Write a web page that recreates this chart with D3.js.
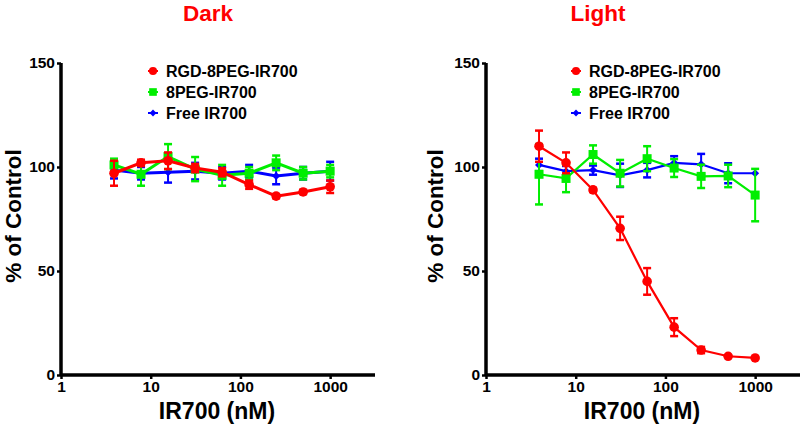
<!DOCTYPE html>
<html><head><meta charset="utf-8">
<script src="https://cdn.jsdelivr.net/npm/d3@7"></script>
<style>body{margin:0;background:#fff}svg{display:block;font-family:"Liberation Sans",Arial,sans-serif;font-weight:bold}</style>
</head><body><svg id="c" width="800" height="428"></svg>
<script>
const conc = [3.9, 7.8, 15.6, 31.25, 62.5, 125, 250, 500, 1000];
const seriesNames = ["RGD-8PEG-IR700", "8PEG-IR700", "Free IR700"];
const seriesColors = ["#ff0000", "#00ee00", "#0000ff"];
const yTicks = [0, 50, 100, 150];
const xTicks = [1, 10, 100, 1000];
// Dark panel
const darkRGD = [97, 102, 103, 99.5, 97.5, 91.5, 86, 88, 90.5];
const darkRGDErr = [6, 1.5, 4, 2, 2, 2, 1, 1, 3];
const dark8PEG = [101, 96.5, 105, 99, 96, 97, 102, 97, 98];
const dark8PEGErr = [3, 5.5, 6, 5.8, 5, 3, 3.5, 3, 3];
const darkFree = [98.5, 97, 97.5, 98, 97, 98, 95.7, 97, 98];
const darkFreeErr = [4, 3, 5, 4, 3, 3, 4, 3, 4.5];
// Light panel
const lightRGD = [110, 102, 89, 70.5, 45, 23, 12, 9, 8.2];
const lightRGDErr = [7.5, 5, 1, 5.6, 6.4, 4.3, 1.5, 0.5, 0.5];
const light8PEG = [96.5, 94.5, 106, 97, 104, 99.5, 95.5, 95.7, 86.5];
const light8PEGErr = [14.5, 6.6, 4.4, 6.4, 6, 4.3, 5.6, 5.4, 12.6];
const lightFree = [101, 98, 98.5, 96, 98.5, 102, 101.3, 97, 97];
const lightFreeErr = [3, 2.5, 2.2, 5.6, 3.5, 3.2, 5, 4.8, 0];

const svg = d3.select("#c");

function panel(opt) {
  const x = d3.scaleLog().domain([1, 3162]).range([opt.x0, opt.x0 + 314]);
  const y = d3.scaleLinear().domain([0, 150]).range([375, 63]);
  const g = svg.append("g");
  g.append("text").attr("x", opt.titleX).attr("y", 21).attr("text-anchor", "middle")
    .attr("fill", "#ff0000").attr("font-size", 22.5).text(opt.title);
  // axes
  const ya = g.append("g").attr("transform", `translate(${opt.x0},0)`)
    .call(d3.axisLeft(y).tickValues(yTicks).tickSize(4).tickPadding(2).tickFormat(d3.format("d")));
  const xa = g.append("g").attr("transform", `translate(0,375)`)
    .call(d3.axisBottom(x).tickValues(xTicks).tickSize(4).tickPadding(2).tickFormat(d3.format("d")));
  [ya, xa].forEach(a => {
    a.select(".domain").attr("stroke", "#000").attr("stroke-width", 3.5);
    a.selectAll(".tick line").attr("stroke", "#000").attr("stroke-width", 2.5);
    a.selectAll("text").attr("font-size", 15.5).attr("font-weight", "bold").attr("fill", "#000")
      .attr("font-family", "Liberation Sans,Arial,sans-serif");
  });
  ya.select(".domain").attr("d", `M0,${y(150)}V${y(0)}`);
  xa.select(".domain").attr("d", `M${opt.x0},0H${opt.x0 + 314}`);
  g.append("text").attr("transform", `translate(${opt.ylabX},216) rotate(-90)`)
    .attr("text-anchor", "middle").attr("font-size", 22.5).text("% of Control");
  g.append("text").attr("x", opt.xlabX).attr("y", 419).attr("text-anchor", "middle")
    .attr("font-size", 23).text("IR700 (nM)");

  const line = d3.line().x((d, i) => x(conc[i])).y(d => y(d));
  const order = [2, 1, 0];
  order.forEach(k => {
    const vals = opt.data[k], errs = opt.errs[k], col = seriesColors[k];
    const sg = g.append("g");
    sg.append("path").attr("d", line(vals)).attr("fill", "none").attr("stroke", col).attr("stroke-width", opt.lw);
    vals.forEach((v, i) => {
      const cx = x(conc[i]), e = errs[i];
      if (e > 0.6) {
        sg.append("line").attr("x1", cx).attr("x2", cx).attr("y1", y(v - e)).attr("y2", y(v + e)).attr("stroke", col).attr("stroke-width", 2);
        [v - e, v + e].forEach(t => sg.append("line").attr("x1", cx - 4).attr("x2", cx + 4).attr("y1", y(t)).attr("y2", y(t)).attr("stroke", col).attr("stroke-width", 2.5));
      }
      marker(sg, k, cx, y(v), col);
    });
  });
  // legend
  seriesNames.forEach((n, k) => {
    const ly = 71 + k * 21;
    g.append("line").attr("x1", opt.legX - 5).attr("x2", opt.legX + 5).attr("y1", ly).attr("y2", ly).attr("stroke", seriesColors[k]).attr("stroke-width", 2);
    marker(g, k, opt.legX, ly, seriesColors[k], 0.85);
    g.append("text").attr("x", opt.legX + 13).attr("y", ly + 6).attr("font-size", 16).text(n);
  });
}

function marker(sel, k, cx, cy, col, s = 1) {
  if (k === 0) sel.append("circle").attr("cx", cx).attr("cy", cy).attr("r", 4.8 * s).attr("fill", col);
  else if (k === 1) sel.append("rect").attr("x", cx - 4.5 * s).attr("y", cy - 4.5 * s).attr("width", 9 * s).attr("height", 9 * s).attr("fill", col);
  else sel.append("path").attr("d", `M${cx},${cy - 4 * s}L${cx + 4 * s},${cy}L${cx},${cy + 4 * s}L${cx - 4 * s},${cy}Z`).attr("fill", col);
}

panel({x0: 61, title: "Dark", titleX: 208, ylabX: 21, xlabX: 217, legX: 153, lw: 3,
  data: [darkRGD, dark8PEG, darkFree], errs: [darkRGDErr, dark8PEGErr, darkFreeErr]});
panel({x0: 486, title: "Light", titleX: 598, ylabX: 443, xlabX: 642, legX: 576, lw: 2.2,
  data: [lightRGD, light8PEG, lightFree], errs: [lightRGDErr, light8PEGErr, lightFreeErr]});
</script></body></html>
